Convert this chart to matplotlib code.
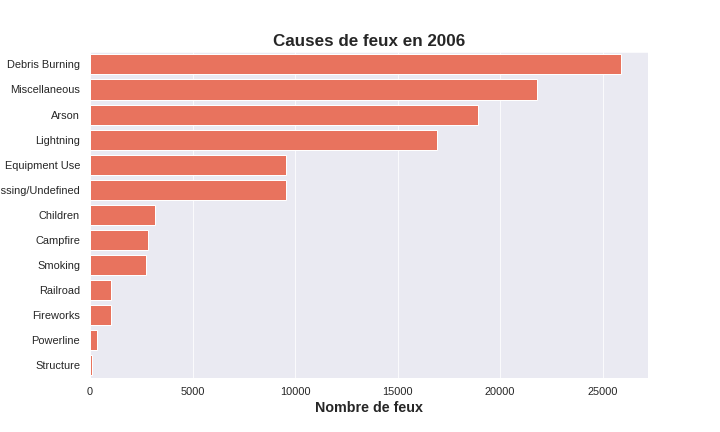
import matplotlib
matplotlib.use("Agg")
import matplotlib.pyplot as plt
import seaborn as sns

causes = ["Debris Burning", "Miscellaneous", "Arson", "Lightning", "Equipment Use",
          "Missing/Undefined", "Children", "Campfire", "Smoking", "Railroad",
          "Fireworks", "Powerline", "Structure"]
counts = [25920, 21820, 18900, 16940, 9560, 9560, 3190, 2850, 2750, 1020, 1020, 340, 100]

sns.set_style("darkgrid")
plt.rcParams["font.family"] = ["Liberation Sans", "DejaVu Sans"]

fig = plt.figure(figsize=(10, 6), dpi=72)
ax = fig.add_axes([0.125, 0.125, 0.775, 0.755])

ax.barh(causes, counts, height=0.8, color="#E8735E", edgecolor="white", linewidth=1)
ax.set_ylim(len(causes) - 0.5, -0.5)
ax.set_xlim(0, max(counts) * 1.05)
ax.grid(axis="y", visible=False)

ax.set_title("Causes de feux en 2006", fontsize=17, fontweight="bold")
ax.set_xlabel("Nombre de feux", fontsize=14.2, fontweight="bold")
ax.tick_params(axis="y", labelsize=11, pad=6.5)
ax.tick_params(axis="x", labelsize=11, pad=5.5)

fig.savefig("out.png", dpi=72)
